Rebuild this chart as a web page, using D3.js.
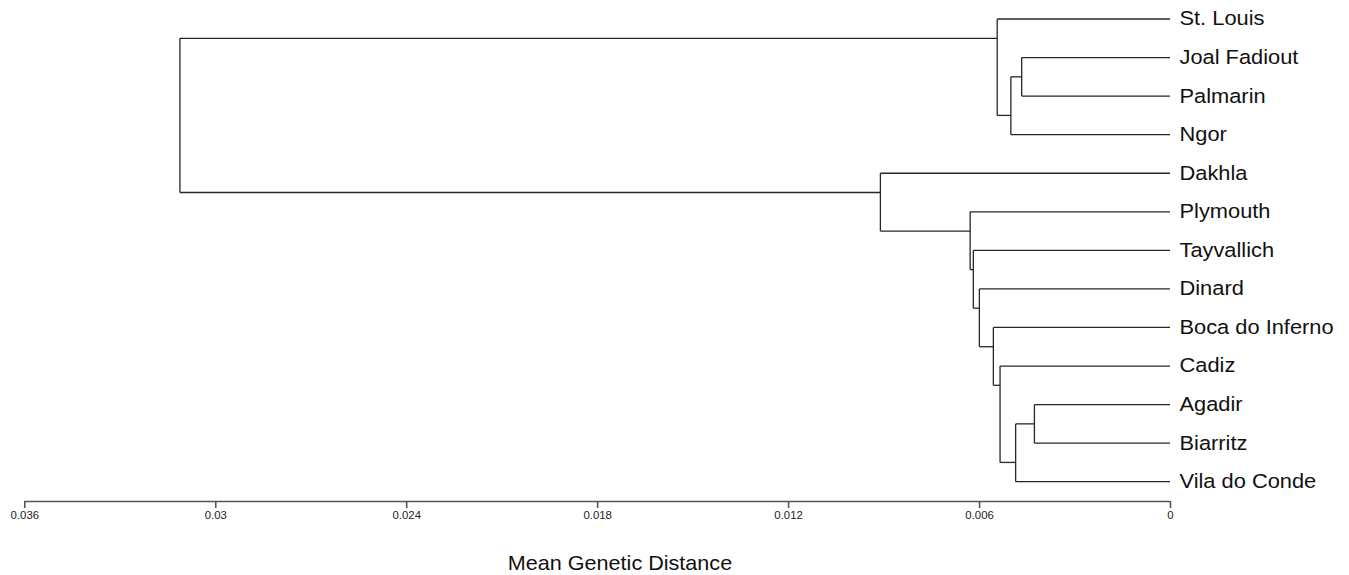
<!DOCTYPE html>
<html>
<head>
<meta charset="utf-8">
<style>
    html, body { margin: 0; padding: 0; background: #fff; }
    svg { display: block; font-family: "Liberation Sans", Arial, sans-serif; }
    .branch { fill: none; stroke: #262626; stroke-width: 1.3; }
    .leaf-label { font-size: 19.5px; fill: #111; }
    .axis path, .axis line { stroke: #555; stroke-width: 1.6; }
    .axis text { font-size: 10px; fill: #222; font-family: "Liberation Sans", Arial, sans-serif; }
    .axis-title { font-size: 20px; fill: #111; }
</style>
<script src="https://cdn.jsdelivr.net/npm/d3@7"></script>
</head>
<body>
<svg id="chart" width="1349" height="575"></svg>
<script>
(function () {
    'use strict';

    // leaves, top to bottom
    var leafNames = [
        'St. Louis', 'Joal Fadiout', 'Palmarin', 'Ngor', 'Dakhla',
        'Plymouth', 'Tayvallich', 'Dinard', 'Boca do Inferno', 'Cadiz',
        'Agadir', 'Biarritz', 'Vila do Conde'
    ];

    // hclust-style merges: negative = leaf (1-based), positive = earlier merge
    var mergePairs = [
        [-2, -3],
        [1, -4],
        [-1, 2],
        [-11, -12],
        [4, -13],
        [-10, 5],
        [-9, 6],
        [-8, 7],
        [-7, 8],
        [-6, 9],
        [-5, 10],
        [3, 11]
    ];

    var mergeHeights = [
        0.00466, 0.00500, 0.00543, 0.00426, 0.00485, 0.00534,
        0.00555, 0.00599, 0.00618, 0.00628, 0.00910, 0.03111
    ];

    var axisTicks = [0.036, 0.03, 0.024, 0.018, 0.012, 0.006, 0];
    var axisLabel = 'Mean Genetic Distance';

    var svg = d3.select('#chart'),
        x = d3.scaleLinear().domain([0.036, 0]).range([24.3, 1170]),
        y = d3.scalePoint().domain(leafNames).range([19, 481.7]),
        axisY = 501,
        nodes = [],
        g;

    // each node knows its first/last leaf and the point where its parent attaches
    function leafNode(i) {
        var yy = y(leafNames[i]);
        return { name: leafNames[i], height: 0, top: yy, bottom: yy, attach: yy };
    }

    function lookup(ref) {
        return ref < 0 ? leafNode(-ref - 1) : nodes[ref - 1];
    }

    mergePairs.forEach(function (pair, i) {
        var a = lookup(pair[0]),
            b = lookup(pair[1]),
            upper = a.top <= b.top ? a : b,
            lower = upper === a ? b : a;
        nodes.push({
            height: mergeHeights[i],
            children: [upper, lower],
            top: upper.top,
            bottom: lower.bottom,
            attach: (upper.bottom + lower.top) / 2
        });
    });

    var root = d3.hierarchy(nodes[nodes.length - 1]);

    g = svg.append('g');

    // vertical joins
    g.selectAll('.join')
        .data(root.descendants().filter(function (d) { return d.children; }))
        .enter()
        .append('line')
        .attr('class', 'branch join')
        .attr('x1', function (d) { return x(d.data.height); })
        .attr('x2', function (d) { return x(d.data.height); })
        .attr('y1', function (d) { return d.children[0].data.attach; })
        .attr('y2', function (d) { return d.children[1].data.attach; });

    // horizontal branches to parent
    g.selectAll('.stem')
        .data(root.descendants().filter(function (d) { return d.parent; }))
        .enter()
        .append('line')
        .attr('class', 'branch stem')
        .attr('x1', function (d) { return x(d.parent.data.height); })
        .attr('x2', function (d) { return x(d.data.height); })
        .attr('y1', function (d) { return d.data.attach; })
        .attr('y2', function (d) { return d.data.attach; });

    // leaf labels
    g.selectAll('.leaf-label')
        .data(root.leaves())
        .enter()
        .append('text')
        .attr('class', 'leaf-label')
        .attr('transform', function (d) {
            return 'translate(' + (x(0) + 9.5) + ',' + d.data.attach + ') scale(1.12,1)';
        })
        .attr('dy', '0.33em')
        .text(function (d) { return d.data.name; });

    // axis
    var axis = d3.axisBottom(x)
        .tickValues(axisTicks)
        .tickFormat(function (d) { return String(d); })
        .tickSize(7)
        .tickSizeOuter(0)
        .tickPadding(4);

    var ag = svg.append('g')
        .attr('class', 'axis')
        .attr('transform', 'translate(0,' + axisY + ')')
        .call(axis);

    ag.selectAll('text').attr('transform', 'scale(1.14,1)');
    ag.select('.domain').attr('d', 'M' + x(0.036) + ',0.5H' + x(0));

    svg.append('text')
        .attr('class', 'axis-title')
        .attr('text-anchor', 'middle')
        .attr('transform', 'translate(620,569.5) scale(1.08,1)')
        .text(axisLabel);
})();
</script>
</body>
</html>
